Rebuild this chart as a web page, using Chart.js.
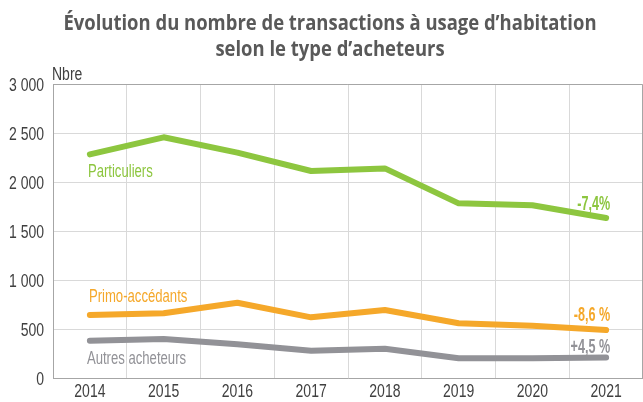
<!DOCTYPE html>
<html>
<head>
<meta charset="utf-8">
<script src="https://cdn.jsdelivr.net/npm/chart.js@4"></script>
<style>
  html, body { margin: 0; padding: 0; background: #fff; }
  #wrap { width: 643px; height: 402px; position: relative; }
</style>
</head>
<body>
<div id="wrap"><canvas id="chart"></canvas></div>
<script>
// données
const years = ['2014', '2015', '2016', '2017', '2018', '2019', '2020', '2021'];
const particuliers = [2282, 2456, 2300, 2112, 2139, 1782, 1762, 1633];
const primoAccedants = [643, 660, 768, 619, 694, 558, 534, 490];
const autresAcheteurs = [381, 398, 344, 279, 299, 201, 201, 210];
const seriesNames = ['Particuliers', 'Primo-accédants', 'Autres acheteurs'];
const evolutions = ['-7,4%', '-8,6 %', '+4,5 %'];
const yTicks = [0, 500, 1000, 1500, 2000, 2500, 3000];
const titleLines = ['Évolution du nombre de transactions à usage d’habitation', 'selon le type d’acheteurs'];

const GREEN = '#8dc63f';
const ORANGE = '#f5a82a';
const GREY = '#929297';
const TEXT = '#404040';
const SANS = "'Liberation Sans', Arial, sans-serif";

// texte resserré (pas de police condensée installée)
function narrowText(ctx, text, x, y, align, sx) {
    ctx.save();
    ctx.translate(x, y);
    ctx.scale(sx, 1);
    ctx.textAlign = align;
    ctx.fillText(text, 0, 0);
    ctx.restore();
}

function fmt(v) {
    return String(v).replace(/\B(?=(\d{3})+(?!\d))/g, ' ');
}

const labelsPlugin = {
    id: 'labels',
    afterDraw(chart) {
        const ctx = chart.ctx;
        const area = chart.chartArea;
        const xs = chart.scales.x;
        const ys = chart.scales.y;
        ctx.save();
        ctx.textBaseline = 'alphabetic';

        // cadre haut / droite
        ctx.strokeStyle = '#a6a6a6';
        ctx.lineWidth = 1;
        ctx.beginPath();
        ctx.moveTo(area.left, area.top + 0.5);
        ctx.lineTo(area.right - 0.5, area.top + 0.5);
        ctx.lineTo(area.right - 0.5, area.bottom);
        ctx.stroke();

        // titre
        ctx.fillStyle = '#595959';
        ctx.font = "bold 20.5px 'Open Sans', sans-serif";
        narrowText(ctx, titleLines[0], 330, 30, 'center', 0.9);
        narrowText(ctx, titleLines[1], 330, 56, 'center', 0.9);

        // axes
        ctx.fillStyle = TEXT;
        ctx.font = '17.5px ' + SANS;
        yTicks.forEach(function (v) {
            narrowText(ctx, fmt(v), area.left - 9, ys.getPixelForValue(v) + 6.5, 'right', 0.8);
        });
        years.forEach(function (y, i) {
            narrowText(ctx, y, xs.getPixelForValue(i), area.bottom + 19, 'center', 0.8);
        });
        narrowText(ctx, 'Nbre', area.left - 1, area.top - 4, 'left', 0.8);

        // libellés des séries et évolutions
        const nameOffsets = [[-2, 22.5], [-1, -13], [-3, 23]];
        const evoOffsets = [-8, -9, -4];
        chart.data.datasets.forEach(function (ds, i) {
            const pts = chart.getDatasetMeta(i).data;
            const first = pts[0];
            const last = pts[pts.length - 1];
            ctx.fillStyle = ds.borderColor;
            ctx.font = '17.5px ' + SANS;
            narrowText(ctx, seriesNames[i], first.x + nameOffsets[i][0], first.y + nameOffsets[i][1], 'left', 0.75);
            ctx.font = 'bold 20px ' + SANS;
            narrowText(ctx, evolutions[i], last.x + 4, last.y + evoOffsets[i], 'right', 0.63);
        });
        ctx.restore();
    }
};

const ctx = document.getElementById('chart').getContext('2d');
const chart = new Chart(ctx, {
    type: 'line',
    data: {
        labels: years,
        datasets: [
            { label: seriesNames[0], data: particuliers, borderColor: GREEN },
            { label: seriesNames[1], data: primoAccedants, borderColor: ORANGE },
            { label: seriesNames[2], data: autresAcheteurs, borderColor: GREY }
        ]
    },
    options: {
        responsive: true,
        maintainAspectRatio: false,
        animation: false,
        layout: { padding: { top: 84, left: 0, right: 0, bottom: 0 } },
        elements: {
            line: { borderWidth: 6, tension: 0, borderCapStyle: 'round', borderJoinStyle: 'round' },
            point: { radius: 0 }
        },
        scales: {
            x: {
                offset: true,
                grid: { color: '#d9d9d9', offset: true, drawTicks: false },
                border: { color: '#a6a6a6' },
                ticks: { display: false },
                afterFit: function (scale) { scale.height = 24; }
            },
            y: {
                min: 0,
                max: 3000,
                afterBuildTicks: function (scale) { scale.ticks = yTicks.map(v => ({ value: v })); },
                grid: { color: '#d9d9d9', drawTicks: false },
                border: { color: '#a6a6a6' },
                ticks: { display: false },
                afterFit: function (scale) { scale.width = 53; }
            }
        },
        plugins: {
            legend: { display: false },
            tooltip: { enabled: false },
            title: { display: false }
        }
    },
    plugins: [labelsPlugin]
});
</script>
</body>
</html>
